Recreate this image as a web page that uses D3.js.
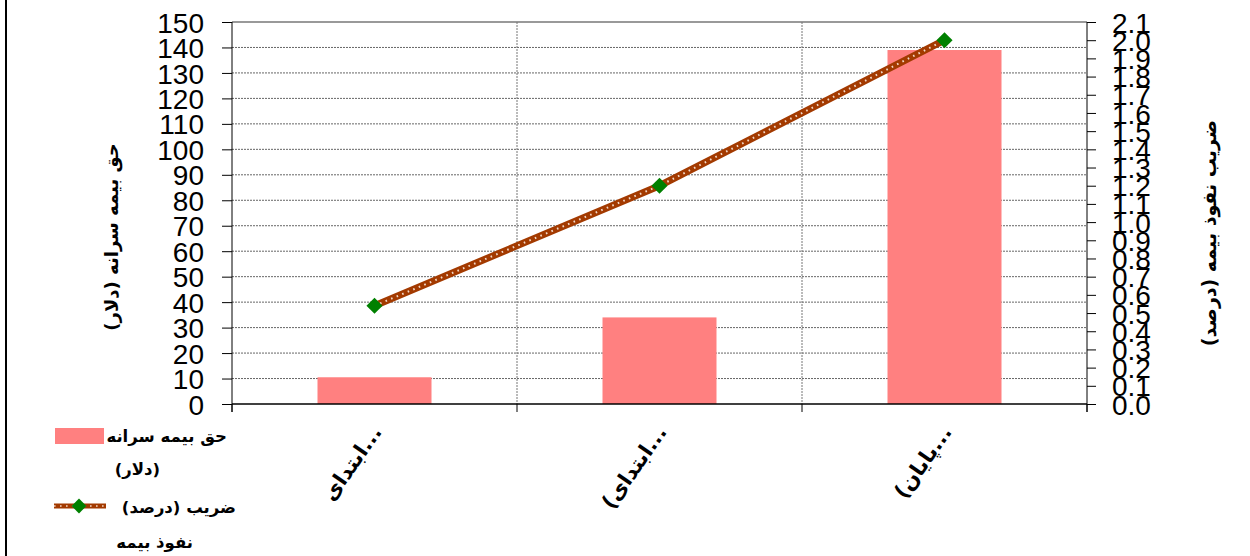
<!DOCTYPE html>
<html>
<head>
<meta charset="utf-8">
<script src="https://cdn.jsdelivr.net/npm/d3@7"></script>
<style>
  body { margin: 0; background: #fff; }
  svg { display: block; }
  .num { font-family: "Liberation Sans", Arial, sans-serif; font-size: 28px; fill: #000; }
  .fa { font-family: "DejaVu Sans", sans-serif; font-weight: bold; fill: #000; }
</style>
</head>
<body>
<svg id="chart" width="1250" height="556"></svg>
<script>
// chart data
const categories = ['ابتدای...', '(ابتدای...', '(پایان...'];
const premium = [10.5, 34, 139];          // حق بیمه سرانه (دلار)
const penetration = [0.54, 1.2, 2.0];     // ضریب نفوذ بیمه (درصد)
const leftTicks = d3.range(0, 151, 10);
const rightTicks = d3.range(0, 22).map(d => d / 10);

const width = 1250;
const height = 556;
const plot = { left: 232, right: 1087, top: 22, bottom: 404 };

const svg = d3.select('#chart');

// outer border (only left edge shows in the reference)
svg.append('line')
    .attr('x1', 6).attr('x2', 6).attr('y1', 0).attr('y2', height)
    .attr('stroke', '#000').attr('stroke-width', 2);

const x = d3.scaleBand().domain(categories).range([plot.left, plot.right]).padding(0);
const yL = d3.scaleLinear().domain([0, 150]).range([plot.bottom, plot.top]);
const yR = d3.scaleLinear().domain([0, 2.1]).range([plot.bottom, plot.top]);

// horizontal grid lines
svg.append('g')
    .selectAll('line')
    .data(leftTicks.filter(d => d > 0))
    .enter()
    .append('line')
    .attr('x1', plot.left).attr('x2', plot.right)
    .attr('y1', d => yL(d)).attr('y2', d => yL(d))
    .attr('stroke', d => d === 150 ? '#999' : '#666')
    .attr('stroke-width', d => d === 150 ? 2 : 1)
    .attr('stroke-dasharray', d => d === 150 ? null : '2,1');

// vertical grid lines at category boundaries
svg.append('g')
    .selectAll('line')
    .data(categories.slice(1))
    .enter()
    .append('line')
    .attr('x1', d => x(d)).attr('x2', d => x(d))
    .attr('y1', plot.top).attr('y2', plot.bottom)
    .attr('stroke', '#777')
    .attr('stroke-dasharray', '2,1');

// bars
const barW = x.bandwidth() * 0.4;
svg.append('g')
    .selectAll('rect')
    .data(premium)
    .enter()
    .append('rect')
    .attr('x', (d, i) => x(categories[i]) + (x.bandwidth() - barW) / 2)
    .attr('y', d => yL(d))
    .attr('width', barW)
    .attr('height', d => plot.bottom - yL(d))
    .attr('fill', '#FF8080');

// left axis
const leftAxis = d3.axisLeft(yL).tickValues(leftTicks).tickSize(10).tickPadding(18).tickFormat(d3.format('d'));
const gL = svg.append('g').attr('transform', `translate(${plot.left},0)`).call(leftAxis);
gL.select('.domain').attr('stroke', '#000').attr('d', `M0,${plot.top}V${plot.bottom + 8}`);
gL.selectAll('.tick line').attr('stroke', '#000');
gL.selectAll('.tick text').attr('class', 'num').attr('font-size', null).attr('font-family', null).attr('dy', '0.36em');

// right axis
const rightAxis = d3.axisRight(yR).tickValues(rightTicks).tickSize(9).tickPadding(16).tickFormat(d3.format('.1f'));
const gR = svg.append('g').attr('transform', `translate(${plot.right},0)`).call(rightAxis);
gR.select('.domain').attr('stroke', '#000').attr('d', `M0,${plot.top}V${plot.bottom + 8}`);
gR.selectAll('.tick line').attr('stroke', '#000');
gR.selectAll('.tick text').attr('class', 'num').attr('font-size', null).attr('font-family', null).attr('dy', '0.36em');

// bottom axis
svg.append('line')
    .attr('x1', plot.left).attr('x2', plot.right)
    .attr('y1', plot.bottom).attr('y2', plot.bottom)
    .attr('stroke', '#000').attr('stroke-width', 1.5);
svg.append('g')
    .selectAll('line')
    .data(categories.concat(['end']))
    .enter()
    .append('line')
    .attr('x1', (d, i) => plot.left + i * x.bandwidth())
    .attr('x2', (d, i) => plot.left + i * x.bandwidth())
    .attr('y1', plot.bottom).attr('y2', plot.bottom + 8)
    .attr('stroke', '#000');

// category labels (rotated)
svg.append('g')
    .selectAll('text')
    .data(categories)
    .enter()
    .append('text')
    .attr('class', 'fa')
    .attr('font-size', 21)
    .attr('text-anchor', 'end')
    .attr('transform', d => `translate(${x(d) + x.bandwidth() / 2 + 8},${plot.bottom + 28}) rotate(-55)`)
    .text(d => d);

// line series
const linePts = penetration.map((v, i) => [x(categories[i]) + x.bandwidth() / 2, yR(v)]);
const lineGen = d3.line();
svg.append('path')
    .attr('d', lineGen(linePts))
    .attr('fill', 'none')
    .attr('stroke', '#A33A00')
    .attr('stroke-width', 7);
svg.append('path')
    .attr('d', lineGen(linePts))
    .attr('fill', 'none')
    .attr('stroke', '#F3D9C8')
    .attr('stroke-width', 2)
    .attr('stroke-dasharray', '1.6,4.4');

svg.append('g')
    .selectAll('path')
    .data(linePts)
    .enter()
    .append('path')
    .attr('d', d3.symbol(d3.symbolSquare, 130))
    .attr('transform', d => `translate(${d[0]},${d[1]}) rotate(45)`)
    .attr('fill', '#008000');

// axis titles
svg.append('text')
    .attr('class', 'fa')
    .attr('font-size', 18)
    .attr('text-anchor', 'middle')
    .attr('transform', 'translate(118,237) rotate(-90)')
    .text('حق بیمه سرانه (دلار)');

svg.append('text')
    .attr('class', 'fa')
    .attr('font-size', 19)
    .attr('text-anchor', 'middle')
    .attr('transform', 'translate(1216,233) rotate(-90)')
    .text('ضریب نفوذ بیمه (درصد)');

// legend
const legend = svg.append('g');
legend.append('rect')
    .attr('x', 55).attr('y', 428).attr('width', 49).attr('height', 16)
    .attr('fill', '#FF8080');
legend.append('line')
    .attr('x1', 54).attr('x2', 106).attr('y1', 506).attr('y2', 506)
    .attr('stroke', '#A33A00').attr('stroke-width', 5);
legend.append('line')
    .attr('x1', 54).attr('x2', 106).attr('y1', 506).attr('y2', 506)
    .attr('stroke', '#F3D9C8').attr('stroke-width', 1.5).attr('stroke-dasharray', '1.6,4.4');
legend.append('path')
    .attr('d', d3.symbol(d3.symbolSquare, 110))
    .attr('transform', 'translate(79,506) rotate(45)')
    .attr('fill', '#008000');

const legendText = [
    ['حق بیمه سرانه', 227, 442],
    ['(دلار)', 160, 475],
    ['ضریب  (درصد)', 236, 513],
    ['نفوذ بیمه', 193, 548]
];
legend.selectAll('text.lg')
    .data(legendText)
    .enter()
    .append('text')
    .attr('class', 'fa')
    .attr('font-size', 16.5)
    .attr('text-anchor', 'end')
    .attr('x', d => d[1])
    .attr('y', d => d[2])
    .text(d => d[0]);
</script>
</body>
</html>
